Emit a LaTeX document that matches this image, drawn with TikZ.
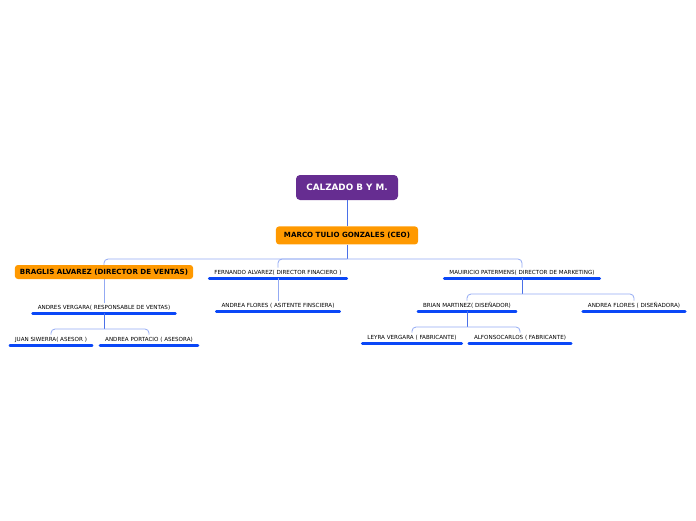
\documentclass[tikz,border=0pt]{standalone}
\usepackage{fontspec}
\setmainfont{DejaVu Sans}
\usetikzlibrary{positioning}
\definecolor{rootpurple}{HTML}{662D91}
\definecolor{bossorange}{HTML}{FF9900}
\definecolor{linkblue}{HTML}{4A70E8}
\definecolor{barblue}{HTML}{93AAF3}
\definecolor{ulblue}{HTML}{0A47F7}
\tikzset{
  orgchart/.style={x=1pt,y=-1pt,
    rounded corners=0pt},
  root/.style={rectangle,rounded corners=4pt,fill=rootpurple,text=white,
    font=\fontsize{8.8}{9}\bfseries\selectfont,
    minimum width=102pt,minimum height=25pt},
  boss/.style={rectangle,rounded corners=3pt,fill=bossorange,text=black,
    font=\fontsize{7.1}{8}\bfseries\selectfont,
    minimum height=14pt,inner xsep=5pt},
  topic/.style={rectangle,inner xsep=5pt,inner ysep=2.5pt,
    text height=4pt,text depth=1.2pt,
    font=\fontsize{5.6}{6}\selectfont,
    append after command={(\tikzlastnode.south west)
      edge[underline] (\tikzlastnode.south east)}},
  underline/.style={draw=ulblue,line width=2.6pt,line cap=round},
  trunk/.style={draw=linkblue,line width=0.8pt},
  branch/.style={draw=barblue,line width=0.8pt,rounded corners=4pt}
}
\begin{document}
\begin{tikzpicture}[orgchart]
      \useasboundingbox (0,0) rectangle (696,520);
      \node[root] (root) at (347,187.5) {CALZADO B Y M.};
      \node[boss] (ceo) [below=26pt of root, minimum height=18pt, inner xsep=8pt] {MARCO TULIO GONZALES (CEO)};
      \node[boss] (ventas) at (104,272) {BRAGLIS ALVAREZ (DIRECTOR DE VENTAS)};
      \node[topic] (fin) at (278,272.9) {FERNANDO ALVAREZ( DIRECTOR FINACIERO )};
      \node[topic] (mkt) at (522,272.9) {MAUIRICIO PATERMENS( DIRECTOR DE MARKETING)};
      \node[topic] (andres) at (104,307.9) {ANDRES VERGARA( RESPONSABLE DE VENTAS)};
      \node[topic] (andreaf) at (278,305.9) {ANDREA FLORES ( ASITENTE FINSCIERA)};
      \node[topic] (brian) at (467,305.9) {BRIAN MARTINEZ( DISEÑADOR)};
      \node[topic] (andread) at (634,305.9) {ANDREA FLORES ( DISEÑADORA)};
      \node[topic] (juan) at (51,339.9) {JUAN SIWERRA( ASESOR )};
      \node[topic] (portacio) at (149,339.9) {ANDREA PORTACIO ( ASESORA)};
      \node[topic] (leyra) at (412,337.9) {LEYRA VERGARA ( FABRICANTE)};
      \node[topic] (alfonso) at (520,337.9) {ALFONSOCARLOS ( FABRICANTE)};
      \coordinate (bar0) at (0,259);
      \coordinate (bar1) at (0,329);
      \coordinate (bar2) at (0,294);
      \coordinate (bar3) at (0,327);
      \draw[trunk] (root) -- (ceo);
      \draw[trunk] (ceo.south) -- (ceo.south |- bar0);
      \draw[branch] (ventas.north) |- (bar0 -| mkt.north) -- (mkt.north);
      \draw[branch] (fin.north) |- (ceo.south |- bar0);
      \draw[branch] (ventas) -- (andres);
      \draw[branch] (fin) -- (andreaf);
      \draw[trunk] (andres.south) -- (andres.south |- bar1);
      \draw[branch] (juan.north) |- (bar1 -| portacio.north) -- (portacio.north);
      \draw[trunk] (mkt.south) -- (mkt.south |- bar2);
      \draw[branch] (brian.north) |- (bar2 -| andread.north) -- (andread.north);
      \draw[trunk] (brian.south) -- (brian.south |- bar3);
      \draw[branch] (leyra.north) |- (bar3 -| alfonso.north) -- (alfonso.north);
    \end{tikzpicture}
\end{document}
